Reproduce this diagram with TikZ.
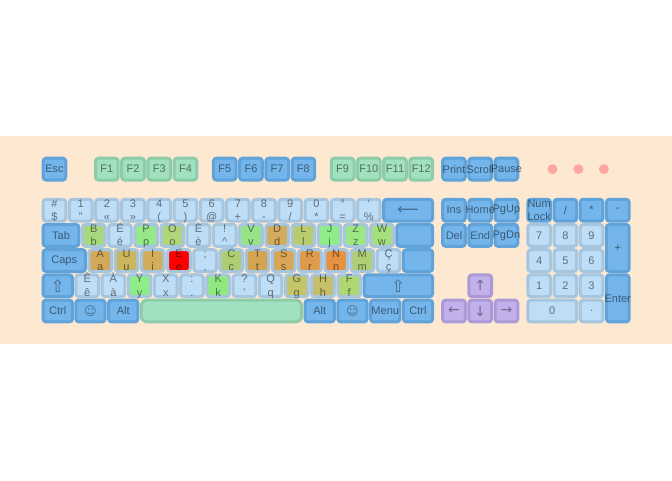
\documentclass[tikz,border=0pt]{standalone}
\usepackage{fontspec}
\setmainfont{Liberation Sans}
\newfontfamily\symfont{DejaVu Sans}
\definecolor{bandbg}{HTML}{FDE8D1}
\definecolor{bluefill}{HTML}{74B6EC}
\definecolor{blueedge}{HTML}{60A3DA}
\definecolor{lightedge}{HTML}{A6C6E0}
\definecolor{greenfill}{HTML}{A2E1BF}
\definecolor{greenedge}{HTML}{8DCBA9}
\definecolor{violetfill}{HTML}{C2B0EA}
\definecolor{violetedge}{HTML}{AB9AD6}
\definecolor{ledfill}{HTML}{FFA6A0}
\newcommand{\two}[2]{\smash{\makebox[0pt]{\raisebox{2.9pt}{#1}}\makebox[0pt]{\raisebox{-10.2pt}{#2}}}}
\newcommand{\wide}[1]{\makebox[0pt]{#1}}
\newcommand{\sym}[2][14pt]{\makebox[0pt]{\symfont\fontsize{#1}{#1}\selectfont #2}}
\tikzset{
  keyw/.style={minimum width=#1*26.2pt-3.5pt},
  keyh/.style={minimum height=#1*25.2pt-3.4pt},
  basekey/.style={draw, rounded corners=3pt, line width=3pt, inner sep=0pt, keyw=1, keyh=1,
    font=\fontsize{11}{13}\selectfont, text=black, text opacity=.5},
  bluekey/.style={basekey, fill=bluefill, draw=blueedge},
  lightkey/.style={basekey, fill=keyheat, draw=lightedge},
  greenkey/.style={basekey, fill=greenfill, draw=greenedge},
  violetkey/.style={basekey, fill=violetfill, draw=violetedge},
  symkey/.style={text opacity=.4},
  led/.style={circle, fill=ledfill, minimum size=10pt, inner sep=0pt}
}
\begin{document}
\begin{tikzpicture}[x=26.2pt,y=-25.2pt]
    \definecolor{keyheat}{HTML}{BEDDF6}
    \fill[white] (-41.35pt,197.6pt) rectangle (630.65pt,-282.4pt);
    \useasboundingbox (-41.35pt,197.6pt) rectangle (630.65pt,-282.4pt);
    \fill[bandbg] (-41.35pt,61.6pt) rectangle (630.65pt,-146.4pt);
    % function row
    \node[bluekey] (esc) at (0.5,-1.13) {Esc};
    \foreach \lbl/\col/\sty in {F1/2/greenkey,F2/3/greenkey,F3/4/greenkey,F4/5/greenkey,
        F5/6.5/bluekey,F6/7.5/bluekey,F7/8.5/bluekey,F8/9.5/bluekey,
        F9/11/greenkey,F10/12/greenkey,F11/13/greenkey,F12/14/greenkey}
        \node[\sty] (\lbl) at (\col+0.5,-1.13) {\lbl};
    \node[bluekey] (print) at (15.75,-1.13) {Print};
    \node[bluekey] (scroll) at (16.75,-1.13) {\wide{Scroll}};
    \node[bluekey] (pause) at (17.75,-1.13) {\wide{Pause}};
    \node[led] (led1) at (19.51,-1.13) {};
    \node[led] (led2) at (20.5,-1.13) {};
    \node[led] (led3) at (21.47,-1.13) {};
    % digit row
    \foreach \up/\low [count=\c from 0] in {\#/\$,1/",2/«,3/»,4/(,5/),6/@,7/+,8/-,9/{/},0/*,°/=,`/\%}
        \node[lightkey] (d\c) at (\c+0.5,0.5) {\two{\up}{\low}};
    \node[bluekey, symkey, keyw=2] (back) at (14,0.5) {\sym[15pt]{⟵}};
    % upper letter row
    \node[bluekey, keyw=1.5] (tab) at (0.75,1.5) {Tab};
    \foreach \up/\low/\heat [count=\c from 0] in {B/b/A7D97C,É/é/BEDDF6,P/p/97E888,O/o/AFD47A,È/è/BEDDF6,
        !/\textasciicircum/BEDDF6,V/v/97E488,D/d/D4AA5C,L/l/B9CB6C,J/j/90EC88,Z/z/9CE684,W/w/A6E07E}{
        \definecolor{keyheat}{HTML}{\heat}
        \node[lightkey] (u\c) at (\c+2,1.5) {\two{\up}{\low}};
    }
    \node[bluekey, keyw=1.5] (entera) at (14.25,1.5) {};
    % home row
    \node[bluekey, keyw=1.75] (caps) at (0.875,2.5) {Caps};
    \foreach \up/\low/\heat [count=\c from 0] in {A/a/D2A85A,U/u/C9B65E,I/i/D2AE5C,E/e/FF0000,;/{,}/BEDDF6,
        C/c/AECE74,T/t/D4A452,S/s/D8A656,R/r/E09A4C,N/n/E69240,M/m/AFD076,Ç/ç/BEDDF6}{
        \definecolor{keyheat}{HTML}{\heat}
        \node[lightkey] (h\c) at (\c+2.25,2.5) {\two{\up}{\low}};
    }
    \node[bluekey, keyw=1.25] (enterb) at (14.375,2.5) {};
    % lower letter row
    \node[bluekey, symkey, keyw=1.25] (lshift) at (0.625,3.5) {\sym[17pt]{⇧}};
    \foreach \up/\low/\heat [count=\c from 0] in {Ê/ê/BEDDF6,À/à/BEDDF6,Y/y/90EC88,X/x/BEDDF6,:/./BEDDF6,
        K/k/90E880,?/'/BEDDF6,Q/q/BEDDF6,G/g/C4C468,H/h/C6BE68,F/f/B0D672}{
        \definecolor{keyheat}{HTML}{\heat}
        \node[lightkey] (l\c) at (\c+1.75,3.5) {\two{\up}{\low}};
    }
    \node[bluekey, symkey, keyw=2.75] (rshift) at (13.625,3.5) {\sym[17pt]{⇧}};
    % bottom row
    \node[bluekey, keyw=1.25] (lctrl) at (0.625,4.5) {Ctrl};
    \node[bluekey, symkey, keyw=1.25] (lsmile) at (1.875,4.5) {\sym[12pt]{☺}};
    \node[bluekey, keyw=1.25] (lalt) at (3.125,4.5) {Alt};
    \node[greenkey, keyw=6.25, rounded corners=6pt] (space) at (6.875,4.5) {};
    \node[bluekey, keyw=1.25] (ralt) at (10.625,4.5) {Alt};
    \node[bluekey, symkey, keyw=1.25] (rsmile) at (11.875,4.5) {\sym[12pt]{☺}};
    \node[bluekey, keyw=1.25] (menu) at (13.125,4.5) {\wide{Menu}};
    \node[bluekey, keyw=1.25] (rctrl) at (14.375,4.5) {Ctrl};
    % navigation block
    \node[bluekey] (ins) at (15.75,0.5) {Ins};
    \node[bluekey] (home) at (16.75,0.5) {\wide{Home}};
    \node[bluekey] (pgup) at (17.75,0.5) {\wide{PgUp}};
    \node[bluekey] (del) at (15.75,1.5) {Del};
    \node[bluekey] (end) at (16.75,1.5) {End};
    \node[bluekey] (pgdn) at (17.75,1.5) {\wide{PgDn}};
    \node[violetkey, symkey] (up) at (16.75,3.5) {\sym{↑}};
    \node[violetkey, symkey] (left) at (15.75,4.5) {\sym{←}};
    \node[violetkey, symkey] (down) at (16.75,4.5) {\sym{↓}};
    \node[violetkey, symkey] (right) at (17.75,4.5) {\sym{→}};
    % numeric pad
    \definecolor{keyheat}{HTML}{BEDDF6}
    \node[bluekey] (numlock) at (19,0.5) {\two{Num}{Lock}};
    \node[bluekey] (slash) at (20,0.5) {/};
    \node[bluekey] (star) at (21,0.5) {*};
    \node[bluekey] (minus) at (22,0.5) {-};
    \foreach \lbl/\col/\row in {7/19/1.5,8/20/1.5,9/21/1.5,4/19/2.5,5/20/2.5,6/21/2.5,1/19/3.5,2/20/3.5,3/21/3.5}
        \node[lightkey] (n\lbl) at (\col,\row) {\lbl};
    \node[lightkey, keyw=2] (n0) at (19.5,4.5) {0};
    \node[lightkey] (ndot) at (21,4.5) {.};
    \node[bluekey, keyh=2] (plus) at (22,2) {+};
    \node[bluekey, keyh=2] (enter) at (22,4) {\wide{Enter}};
\end{tikzpicture}
\end{document}
